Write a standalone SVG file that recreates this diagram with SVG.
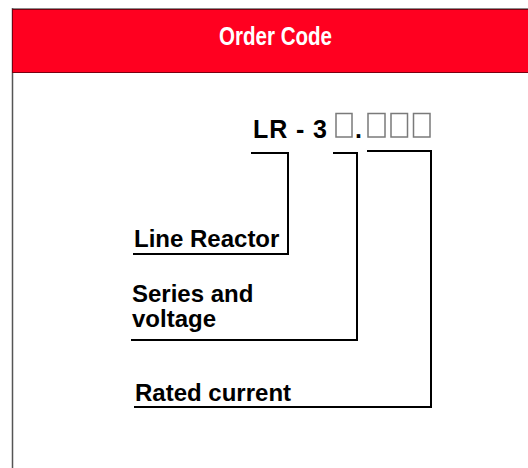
<svg xmlns="http://www.w3.org/2000/svg" width="528" height="468" viewBox="0 0 528 468">
  <style>
    .lbl { font-family: "Liberation Sans", Arial, Helvetica, sans-serif; font-weight: bold; font-size: 24px; fill: #000; }
    .code { font-family: "Liberation Sans", Arial, Helvetica, sans-serif; font-weight: bold; font-size: 25px; fill: #000; }
    .title { font-family: "Liberation Sans Narrow", "Liberation Sans", Arial, sans-serif; font-weight: bold; font-size: 25px; fill: #fff; }
    .conn { fill: none; stroke: #000; stroke-width: 2; }
    .slot { fill: #fff; stroke: #7a7a7a; stroke-width: 1.5; }
  </style>
  <rect x="0" y="0" width="528" height="468" fill="#fff"/>
  <g id="frame">
    <line x1="12" y1="8.5" x2="528" y2="8.5" stroke="#8c8c8c" stroke-width="1"/>
    <line x1="12.5" y1="8" x2="12.5" y2="468" stroke="#555" stroke-width="1.5"/>
  </g>
  <g id="header">
    <rect x="12.5" y="9.5" width="520" height="63" fill="#ff0020" stroke="#7a0010" stroke-width="1"/>
    <text class="title" x="275.5" y="44.5" text-anchor="middle" textLength="113" lengthAdjust="spacingAndGlyphs">Order Code</text>
  </g>
  <g id="code">
    <text class="code" x="253" y="138" textLength="74" lengthAdjust="spacing">LR - 3</text>
    <rect class="slot" x="336" y="113.5" width="16" height="23.5"/>
    <text class="code" x="355" y="138">.</text>
    <rect class="slot" x="368" y="113.5" width="17" height="23.5"/>
    <rect class="slot" x="391" y="113.5" width="16.5" height="23.5"/>
    <rect class="slot" x="413.5" y="113.5" width="16.5" height="23.5"/>
  </g>
  <g id="connectors">
    <path class="conn" d="M251,153 H288 V254 H133"/>
    <path class="conn" d="M333,153 H357 V340 H131"/>
    <path class="conn" d="M367,151 H431 V407 H134"/>
  </g>
  <g id="line-reactor">
    <text class="lbl" x="134" y="247">Line Reactor</text>
  </g>
  <g id="series-voltage">
    <text class="lbl" x="132" y="302">Series and</text>
    <text class="lbl" x="132" y="327">voltage</text>
  </g>
  <g id="rated-current">
    <text class="lbl" x="135" y="401">Rated current</text>
  </g>
</svg>
